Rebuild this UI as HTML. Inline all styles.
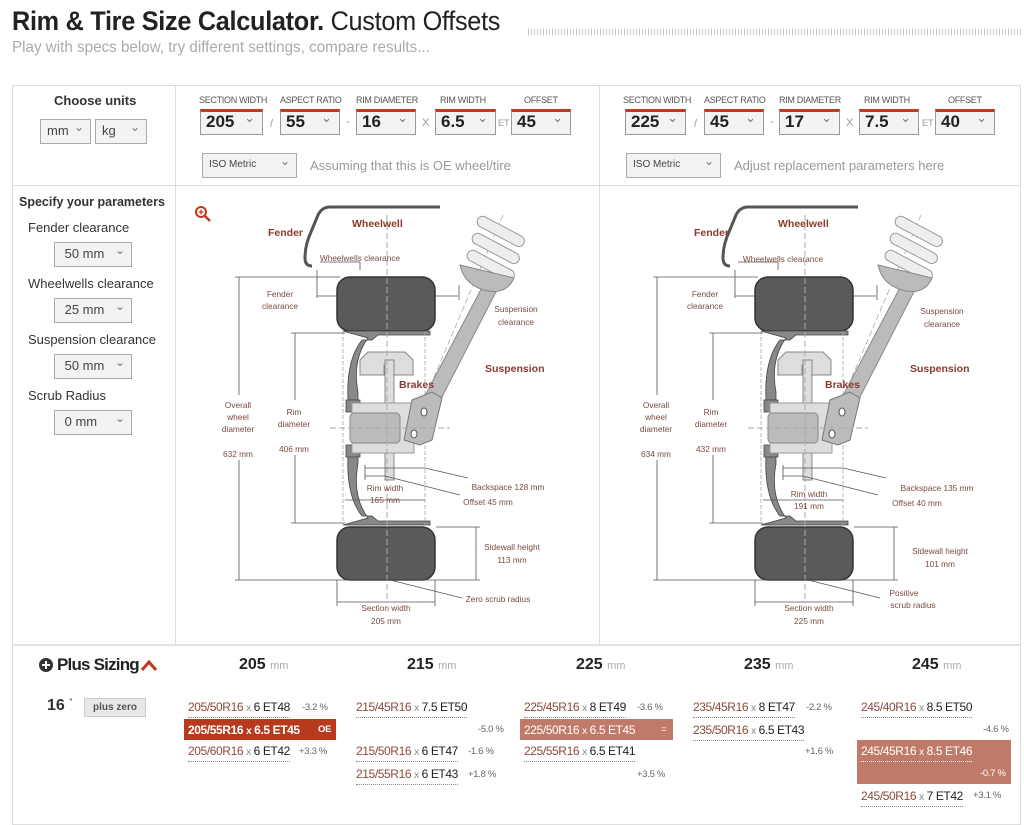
<!DOCTYPE html>
<html><head><meta charset="utf-8"><style>
*{margin:0;padding:0;box-sizing:border-box}
body{width:1024px;height:813px;background:#fff;font-family:"Liberation Sans",sans-serif;color:#333;position:relative;overflow:hidden}
.a{position:absolute}
.sel{position:absolute;border:1px solid #aaa;background:#f3f3f3;font-size:13px;color:#444;padding-left:6px;line-height:22px;height:25px}
.sel:after{content:"⌄";position:absolute;right:6px;top:-4px;color:#777;font-size:12px}
.tsel{position:absolute;border:1px solid #999;border-top:3px solid #c0391b;background:#f3f3f3;font-size:17px;font-weight:bold;color:#222;padding-left:5px;line-height:20px;height:26px}
.tsel:after{content:"⌄";position:absolute;right:7px;top:-4px;color:#777;font-size:13px;font-weight:normal}
.hd{position:absolute;font-size:9px;color:#555;letter-spacing:-.3px}
.sep{position:absolute;font-size:11px;color:#999}
.lbl{position:absolute;font-size:13px;color:#333}
.ps{position:absolute;font-size:12px;letter-spacing:-.4px;color:#8b4a3a;border-bottom:1px dotted #888;line-height:16px;white-space:nowrap}
.ps b{font-weight:normal;color:#222}
.ps i{font-style:normal;color:#888;font-size:10px}
.pc{position:absolute;font-size:9.5px;color:#666;letter-spacing:-.3px}
.ch{position:absolute;font-size:16px;font-weight:bold;color:#222}
.ch span{font-size:11px;font-weight:normal;color:#aaa}
</style></head><body>
<div class="a" style="left:12px;top:6px;font-size:27px;font-weight:bold;color:#222;letter-spacing:-.3px;transform:scaleX(0.935);transform-origin:left top;white-space:nowrap">Rim &amp; Tire Size Calculator. <span style="font-weight:normal">Custom Offsets</span></div>
<div class="a" style="left:12px;top:39px;font-size:16px;color:#aaa;transform:scaleX(0.95);transform-origin:left top;white-space:nowrap">Play with specs below, try different settings, compare results...</div>
<div class="a" style="left:528px;top:29px;width:494px;height:6px;background:repeating-linear-gradient(90deg,#ccc 0 1px,#fff 1px 3px)"></div>

<div class="a" style="left:12px;top:85px;width:1009px;height:740px;border:1px solid #ddd"></div>
<div class="a" style="left:175px;top:85px;width:1px;height:560px;background:#ddd"></div>
<div class="a" style="left:599px;top:85px;width:1px;height:560px;background:#ddd"></div>
<div class="a" style="left:12px;top:185px;width:1009px;height:1px;background:#ddd"></div>
<div class="a" style="left:12px;top:644px;width:1009px;height:2px;background:#e3e3e3"></div>

<div class="a" style="left:54px;top:93px;font-size:13px;font-weight:bold">Choose units</div>
<div class="sel" style="left:40px;top:119px;width:51px">mm</div>
<div class="sel" style="left:95px;top:119px;width:52px">kg</div>

<div class="hd" style="left:199px;top:95px">SECTION WIDTH</div>
<div class="hd" style="left:280px;top:95px">ASPECT RATIO</div>
<div class="hd" style="left:356px;top:95px">RIM DIAMETER</div>
<div class="hd" style="left:440px;top:95px">RIM WIDTH</div>
<div class="hd" style="left:524px;top:95px">OFFSET</div>
<div class="tsel" style="left:200px;top:109px;width:63px">205</div>
<div class="sep" style="left:270px;top:118px">/</div>
<div class="tsel" style="left:280px;top:109px;width:60px">55</div>
<div class="sep" style="left:346px;top:116px">-</div>
<div class="tsel" style="left:356px;top:109px;width:60px">16</div>
<div class="sep" style="left:422px;top:117px">X</div>
<div class="tsel" style="left:435px;top:109px;width:61px">6.5</div>
<div class="sep" style="left:498px;top:118px;font-size:9px">ET</div>
<div class="tsel" style="left:511px;top:109px;width:60px">45</div>
<div class="sel" style="left:202px;top:153px;width:95px;font-size:10px">ISO Metric</div>
<div class="a" style="left:310px;top:158px;font-size:13px;color:#999">Assuming that this is OE wheel/tire</div>

<div class="hd" style="left:623px;top:95px">SECTION WIDTH</div>
<div class="hd" style="left:704px;top:95px">ASPECT RATIO</div>
<div class="hd" style="left:779px;top:95px">RIM DIAMETER</div>
<div class="hd" style="left:864px;top:95px">RIM WIDTH</div>
<div class="hd" style="left:948px;top:95px">OFFSET</div>
<div class="tsel" style="left:625px;top:109px;width:61px">225</div>
<div class="sep" style="left:694px;top:118px">/</div>
<div class="tsel" style="left:704px;top:109px;width:60px">45</div>
<div class="sep" style="left:770px;top:116px">-</div>
<div class="tsel" style="left:779px;top:109px;width:61px">17</div>
<div class="sep" style="left:846px;top:117px">X</div>
<div class="tsel" style="left:859px;top:109px;width:60px">7.5</div>
<div class="sep" style="left:922px;top:118px;font-size:9px">ET</div>
<div class="tsel" style="left:935px;top:109px;width:60px">40</div>
<div class="sel" style="left:626px;top:153px;width:95px;font-size:10px">ISO Metric</div>
<div class="a" style="left:734px;top:158px;font-size:13px;color:#999">Adjust replacement parameters here</div>

<div class="a" style="left:19px;top:195px;font-size:12.5px;font-weight:bold">Specify your parameters</div>
<div class="lbl" style="left:28px;top:220px">Fender clearance</div>
<div class="sel" style="left:54px;top:242px;width:78px">&nbsp;50 mm</div>
<div class="lbl" style="left:28px;top:276px">Wheelwells clearance</div>
<div class="sel" style="left:54px;top:298px;width:78px">&nbsp;25 mm</div>
<div class="lbl" style="left:28px;top:332px">Suspension clearance</div>
<div class="sel" style="left:54px;top:354px;width:78px">&nbsp;50 mm</div>
<div class="lbl" style="left:28px;top:388px">Scrub Radius</div>
<div class="sel" style="left:54px;top:410px;width:78px">&nbsp;0 mm</div>

<svg class="a" style="left:0;top:0" width="1024" height="813" font-family="Liberation Sans,sans-serif">
<defs>
<g id="wh">
 <path d="M440,207 L330,207 Q322,207 318,215 L311,232 Q305,245 305,258 Q305,266 312,266" fill="none" stroke="#555" stroke-width="3"/>
 <polygon points="486,280 500,284 425,430 410,424" fill="#bbb" stroke="#888"/>
 <line x1="503" y1="215" x2="405" y2="445" stroke="#aaa" stroke-dasharray="6,3" stroke-width="0.8"/>
 <g fill="#eee" stroke="#999">
  <rect x="475" y="226" width="52" height="11" rx="5.5" transform="rotate(28 501 231)"/>
  <rect x="470" y="243" width="52" height="11" rx="5.5" transform="rotate(28 496 248)"/>
  <rect x="465" y="260" width="52" height="11" rx="5.5" transform="rotate(28 491 265)"/>
 </g>
 <path d="M460,265 L514,278 Q506,296 484,290 Q464,284 460,265 Z" fill="#bbb" stroke="#888"/>
 <path d="M317,270 V298 M317,296 H337 M360,262 V270 M320,262 H360 M435,296 H458 M459,285 V300" stroke="#555" fill="none" stroke-width="0.8"/>
 <rect x="337" y="277" width="98" height="54" rx="13" fill="#5a5a5a" stroke="#333" stroke-width="1.5"/>
 <rect x="337" y="527" width="98" height="53" rx="13" fill="#5a5a5a" stroke="#333" stroke-width="1.5"/>
 <path d="M343,331 H430 V335 H378 L372,340 H362 Q346,360 348,400 H358 V392 Q352,360 368,338 Z" fill="#888" stroke="#444" stroke-width="0.8"/>
 <path d="M343,525 H430 V521 H378 L372,516 H362 Q346,496 348,455 H358 V464 Q352,496 368,518 Z" fill="#888" stroke="#444" stroke-width="0.8"/>
 <path d="M346,400 H360 V412 H346 Z M346,445 H360 V457 H346 Z" fill="#888" stroke="#444" stroke-width="0.8"/>
 <line x1="343" y1="331" x2="343" y2="525" stroke="#aaa" stroke-dasharray="4,2" stroke-width="0.8"/>
 <line x1="425" y1="331" x2="425" y2="525" stroke="#aaa" stroke-dasharray="4,2" stroke-width="0.8"/>
 <path d="M360,360 L368,352 H405 L413,360 V375 H394 V365 H384 V375 H360 Z" fill="#ddd" stroke="#888"/>
 <rect x="385" y="360" width="9" height="120" fill="#ddd" stroke="#888"/>
 <rect x="352" y="403" width="62" height="50" fill="#ddd" stroke="#999"/>
 <rect x="350" y="413" width="50" height="30" rx="4" fill="#bbb" stroke="#888"/>
 <path d="M412,400 L432,392 L442,398 L432,440 L420,445 L404,440 Z" fill="#bbb" stroke="#777"/>
 <ellipse cx="424" cy="412" rx="3" ry="4" fill="#fff" stroke="#555"/>
 <ellipse cx="414" cy="434" rx="3" ry="4" fill="#fff" stroke="#555"/>
 <line x1="330" y1="428" x2="450" y2="428" stroke="#aaa" stroke-dasharray="6,3"/>
 <line x1="387" y1="215" x2="387" y2="600" stroke="#aaa" stroke-dasharray="6,3"/>
 <g stroke="#555" stroke-width="0.8" fill="none">
  <path d="M235,277 H340 M235,580 H480 M239,277 V395 M239,460 V580"/>
  <path d="M291,333 H345 M291,523 H345 M295,333 V400 M295,455 V523"/>
  <path d="M436,527 H480 M476,527 V580"/>
  <path d="M337,580 V606 M435,580 V606 M337,602 H435"/>
  <path d="M365,465 V480 M365,468 H425 M365,476 H385 M425,468 L468,478 M385,476 L460,495 M345,500 H425"/>
  <path d="M390,580 L462,598"/>
 </g>
</g>
</defs>
<use href="#wh"/>
<g transform="translate(418,0)"><use href="#wh"/></g>
<g fill="#8b3a2e" font-size="10.5" font-weight="bold">
 <text x="268" y="236">Fender</text><text x="352" y="227">Wheelwell</text><text x="399" y="388">Brakes</text><text x="485" y="372">Suspension</text>
 <text x="694" y="236">Fender</text><text x="778" y="227">Wheelwell</text><text x="825" y="388">Brakes</text><text x="910" y="372">Suspension</text>
</g>
<g fill="#7a4a3e" font-size="8.3" text-anchor="middle">
 <text x="360" y="261">Wheelwells clearance</text>
 <text x="280" y="297">Fender</text><text x="280" y="309">clearance</text>
 <text x="516" y="312">Suspension</text><text x="516" y="325">clearance</text>
 <text x="238" y="408">Overall</text><text x="238" y="420">wheel</text><text x="238" y="432">diameter</text><text x="238" y="457">632 mm</text>
 <text x="294" y="415">Rim</text><text x="294" y="427">diameter</text><text x="294" y="452">406 mm</text>
 <text x="385" y="491">Rim width</text><text x="385" y="503">165 mm</text>
 <text x="508" y="490">Backspace 128 mm</text><text x="488" y="505">Offset 45 mm</text>
 <text x="512" y="550">Sidewall height</text><text x="512" y="563">113 mm</text>
 <text x="498" y="602">Zero scrub radius</text>
 <text x="386" y="611">Section width</text><text x="386" y="624">205 mm</text>

 <text x="783" y="262">Wheelwells clearance</text>
 <text x="705" y="297">Fender</text><text x="705" y="309">clearance</text>
 <text x="942" y="314">Suspension</text><text x="942" y="327">clearance</text>
 <text x="656" y="408">Overall</text><text x="656" y="420">wheel</text><text x="656" y="432">diameter</text><text x="656" y="457">634 mm</text>
 <text x="711" y="415">Rim</text><text x="711" y="427">diameter</text><text x="711" y="452">432 mm</text>
 <text x="809" y="497">Rim width</text><text x="809" y="509">191 mm</text>
 <text x="937" y="491">Backspace 135 mm</text><text x="917" y="506">Offset 40 mm</text>
 <text x="940" y="554">Sidewall height</text><text x="940" y="567">101 mm</text>
 <text x="904" y="596">Positive</text><text x="913" y="608">scrub radius</text>
 <text x="809" y="611">Section width</text><text x="809" y="624">225 mm</text>
</g>
<circle cx="201" cy="212" r="5" fill="none" stroke="#c0391b" stroke-width="2"/>
<line x1="205" y1="216" x2="210" y2="221" stroke="#c0391b" stroke-width="2.5"/>
<path d="M198.5,212 H203.5 M201,209.5 V214.5" stroke="#c0391b" stroke-width="1.3"/>
<circle cx="46" cy="665" r="7" fill="#333"/>
<path d="M42,665 H50 M46,661 V669" stroke="#fff" stroke-width="2"/>
<path d="M142,670 L149,662 L156,670" stroke="#c0391b" stroke-width="3" fill="none"/>
</svg>

<div class="a" style="left:57px;top:655px;font-size:17px;font-weight:bold;color:#222;letter-spacing:-.8px">Plus Sizing</div>
<div class="ch" style="left:239px;top:656px">205 <span>mm</span></div>
<div class="ch" style="left:407px;top:656px">215 <span>mm</span></div>
<div class="ch" style="left:576px;top:656px">225 <span>mm</span></div>
<div class="ch" style="left:744px;top:656px">235 <span>mm</span></div>
<div class="ch" style="left:912px;top:656px">245 <span>mm</span></div>
<div class="a" style="left:47px;top:697px;font-size:16px;font-weight:bold">16 <span style="font-size:9px;font-weight:normal;vertical-align:top">"</span></div>
<div class="a" style="left:84px;top:698px;width:62px;height:19px;background:#e8e8e8;border:1px solid #ccc;font-size:10px;text-align:center;line-height:17px;font-weight:bold;color:#555">plus zero</div>

<div class="ps" style="left:188px;top:699px">205/50R16 <i>x</i> <b>6 ET48</b></div><div class="pc" style="left:302px;top:702px">-3.2 %</div>
<div class="a" style="left:184px;top:719px;width:152px;height:21px;background:#b73a1c"></div>
<div class="ps" style="left:188px;top:722px;color:#fff;font-weight:bold;border-color:#fff">205/55R16 <i style="color:#fff">x</i> <b style="color:#fff;font-weight:bold">6.5 ET45</b></div><div class="pc" style="left:318px;top:724px;color:#fff;font-weight:bold">OE</div>
<div class="ps" style="left:188px;top:743px">205/60R16 <i>x</i> <b>6 ET42</b></div><div class="pc" style="left:299px;top:746px">+3.3 %</div>

<div class="ps" style="left:356px;top:699px">215/45R16 <i>x</i> <b>7.5 ET50</b></div><div class="pc" style="left:478px;top:724px">-5.0 %</div>
<div class="ps" style="left:356px;top:743px">215/50R16 <i>x</i> <b>6 ET47</b></div><div class="pc" style="left:468px;top:746px">-1.6 %</div>
<div class="ps" style="left:356px;top:766px">215/55R16 <i>x</i> <b>6 ET43</b></div><div class="pc" style="left:468px;top:769px">+1.8 %</div>

<div class="ps" style="left:524px;top:699px">225/45R16 <i>x</i> <b>8 ET49</b></div><div class="pc" style="left:637px;top:702px">-3.6 %</div>
<div class="a" style="left:520px;top:719px;width:153px;height:21px;background:#c07a6a"></div>
<div class="ps" style="left:524px;top:722px;color:#fff;border-color:#fff">225/50R16 <i style="color:#fff">x</i> <b style="color:#fff">6.5 ET45</b></div><div class="pc" style="left:661px;top:724px;color:#fff">=</div>
<div class="ps" style="left:524px;top:743px">225/55R16 <i>x</i> <b>6.5 ET41</b></div><div class="pc" style="left:637px;top:769px">+3.5 %</div>

<div class="ps" style="left:693px;top:699px">235/45R16 <i>x</i> <b>8 ET47</b></div><div class="pc" style="left:806px;top:702px">-2.2 %</div>
<div class="ps" style="left:693px;top:722px">235/50R16 <i>x</i> <b>6.5 ET43</b></div><div class="pc" style="left:805px;top:746px">+1.6 %</div>

<div class="ps" style="left:861px;top:699px">245/40R16 <i>x</i> <b>8.5 ET50</b></div><div class="pc" style="left:983px;top:724px">-4.6 %</div>
<div class="a" style="left:857px;top:740px;width:154px;height:44px;background:#c07a6a"></div>
<div class="ps" style="left:861px;top:743px;color:#fff;border-color:#fff">245/45R16 <i style="color:#fff">x</i> <b style="color:#fff">8.5 ET46</b></div><div class="pc" style="left:980px;top:768px;color:#fff">-0.7 %</div>
<div class="ps" style="left:861px;top:788px">245/50R16 <i>x</i> <b>7 ET42</b></div><div class="pc" style="left:973px;top:790px">+3.1 %</div>
</body></html>
